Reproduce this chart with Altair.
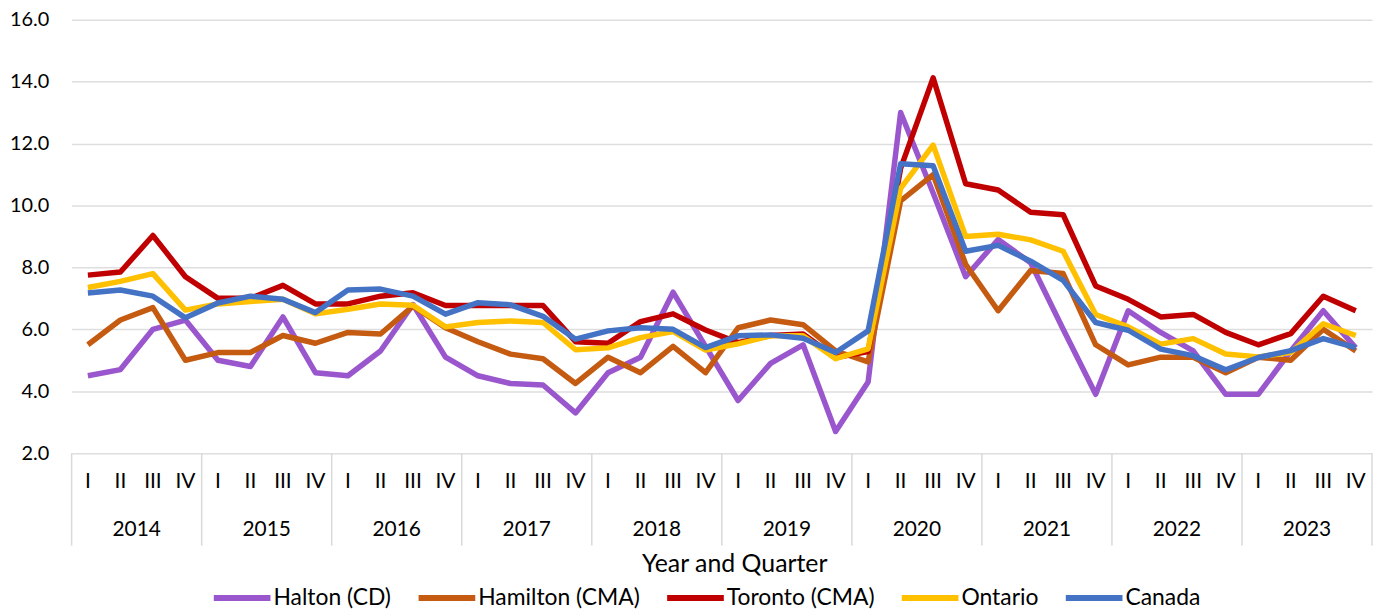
import altair as alt
import pandas as pd

FONT = "Lato"

quarters = ["I", "II", "III", "IV"]
years = ["2014", "2015", "2016", "2017", "2018", "2019", "2020", "2021", "2022", "2023"]

series_names = ["Halton (CD)", "Hamilton (CMA)", "Toronto (CMA)", "Ontario", "Canada"]
series_colors = ["#9A57CD", "#C55A11", "#C00000", "#FFC000", "#4472C4"]

halton = [4.5, 4.7, 6.0, 6.3, 5.0, 4.8, 6.4, 4.6, 4.5, 5.3, 6.8, 5.1,
          4.5, 4.25, 4.2, 3.3, 4.6, 5.1, 7.2, 5.45, 3.7, 4.9, 5.5, 2.7,
          4.3, 13.0, 10.4, 7.7, 8.9, 8.15, 6.0, 3.9, 6.6, 5.9, 5.3, 3.9,
          3.9, 5.3, 6.6, 5.4]
hamilton = [5.5, 6.3, 6.7, 5.0, 5.25, 5.25, 5.8, 5.55, 5.9, 5.85, 6.75, 6.05,
            5.6, 5.2, 5.05, 4.25, 5.1, 4.6, 5.45, 4.6, 6.05, 6.3, 6.15, 5.3,
            4.95, 10.15, 11.0, 8.1, 6.6, 7.9, 7.8, 5.5, 4.85, 5.1, 5.1, 4.6,
            5.1, 5.0, 6.0, 5.3]
toronto = [7.75, 7.85, 9.03, 7.7, 7.0, 7.0, 7.42, 6.82, 6.82, 7.07, 7.18, 6.77,
           6.77, 6.77, 6.77, 5.6, 5.55, 6.25, 6.5, 5.98, 5.57, 5.8, 5.85, 5.09,
           5.28, 11.2, 14.12, 10.7, 10.5, 9.78, 9.7, 7.4, 6.97, 6.4, 6.48, 5.9,
           5.5, 5.86, 7.07, 6.6]
ontario = [7.35, 7.55, 7.8, 6.62, 6.82, 6.9, 6.97, 6.5, 6.65, 6.82, 6.78, 6.08,
           6.22, 6.27, 6.22, 5.34, 5.4, 5.73, 5.93, 5.33, 5.53, 5.79, 5.79, 5.05,
           5.37, 10.55, 11.95, 9.0, 9.07, 8.89, 8.52, 6.48, 6.08, 5.52, 5.7, 5.2,
           5.11, 5.25, 6.18, 5.8]
canada = [7.17, 7.27, 7.07, 6.37, 6.85, 7.07, 6.97, 6.54, 7.27, 7.3, 7.07, 6.49,
          6.86, 6.79, 6.42, 5.68, 5.95, 6.05, 6.0, 5.41, 5.79, 5.82, 5.71, 5.25,
          5.95, 11.35, 11.28, 8.52, 8.71, 8.2, 7.58, 6.22, 5.97, 5.36, 5.15, 4.69,
          5.09, 5.31, 5.7, 5.41]

all_values = [halton, hamilton, toronto, ontario, canada]

rows = []
for name, vals in zip(series_names, all_values):
    for i, v in enumerate(vals):
        rows.append({"series": name, "idx": i, "value": v})
df = pd.DataFrame(rows)

W, H = 1308, 436
TOP = 10
BOTTOM = 612 - 8 - TOP - H

q_df = pd.DataFrame({"idx": list(range(40)), "label": [quarters[i % 4] for i in range(40)]})
y_df = pd.DataFrame({"idx": [4 * k + 1.5 for k in range(10)], "label": years})
sep_df = pd.DataFrame({"idx": [4 * k - 0.5 for k in range(11)]})

xscale = alt.Scale(domain=[-0.5, 39.5], nice=False, zero=False)
yscale = alt.Scale(domain=[2, 16], nice=False, zero=False)

x_enc = alt.X("idx:Q", scale=xscale, axis=None)
y_enc = alt.Y("value:Q", scale=yscale,
              axis=alt.Axis(values=[2, 4, 6, 8, 10, 12, 14, 16], format=".1f", title=None,
                            grid=True, gridColor="#dedede", gridWidth=1.5,
                            domain=False, ticks=False, labelPadding=23,
                            labelFontSize=20, labelFont=FONT, labelColor="#000000"))

color_enc = alt.Color("series:N",
                      scale=alt.Scale(domain=series_names, range=series_colors),
                      legend=alt.Legend(title=None, orient="none", direction="horizontal",
                                        legendX=140, legendY=550,
                                        symbolType="stroke", symbolSize=3249,
                                        symbolStrokeWidth=6, labelFontSize=23,
                                        labelFont=FONT, labelColor="#000000",
                                        labelLimit=400,
                                        labelOffset=0, columnPadding=15, columns=5))

layers = []
for name in series_names:
    layers.append(
        alt.Chart(df).transform_filter(alt.datum.series == name)
        .mark_line(strokeWidth=5.5, strokeJoin="round")
        .encode(x=x_enc, y=y_enc, color=color_enc)
    )

seps = alt.Chart(sep_df).mark_rule(color="#d9d9d9", strokeWidth=1.5).encode(
    x=alt.X("idx:Q", scale=xscale, axis=None), y=alt.value(H), y2=alt.value(H + 93))

qlabels = alt.Chart(q_df).mark_text(font=FONT, fontSize=21, color="#000000", baseline="middle").encode(
    x=alt.X("idx:Q", scale=xscale, axis=None), y=alt.value(483 - 8 - TOP), text="label:N")

ylabels = alt.Chart(y_df).mark_text(font=FONT, fontSize=21, color="#000000", baseline="middle").encode(
    x=alt.X("idx:Q", scale=xscale, axis=None), y=alt.value(531 - 8 - TOP), text="label:N")

xtitle = alt.Chart(pd.DataFrame({"t": ["Year and Quarter"]})).mark_text(
    font=FONT, fontSize=25, color="#000000", baseline="middle").encode(
    x=alt.value(667), y=alt.value(566 - 8 - TOP), text="t:N")

chart = alt.layer(seps, qlabels, ylabels, xtitle, *layers).properties(
    width=W, height=H,
    autosize=alt.AutoSizeParams(type="none"),
    padding={"left": 64, "top": TOP, "right": 3, "bottom": BOTTOM},
).configure_view(stroke=None)

chart.save("out.html", embed_options={"renderer": "svg", "actions": False})
